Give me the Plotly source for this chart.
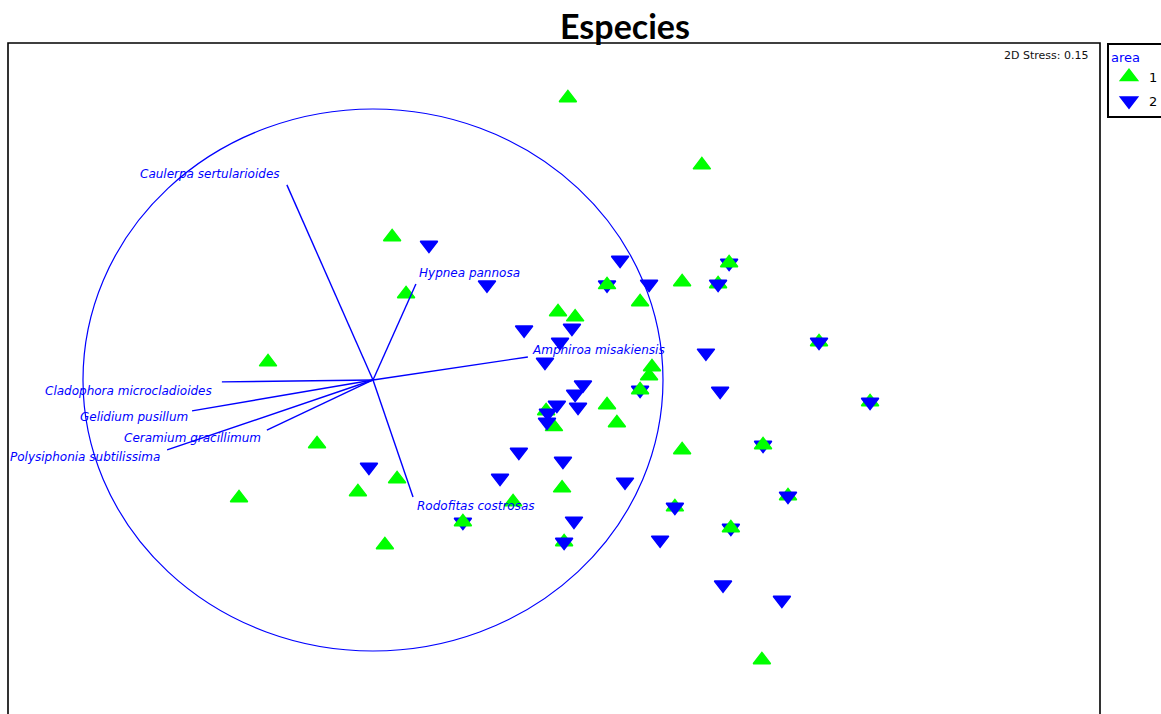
import plotly.graph_objects as go

# nMDS ordination scores (arbitrary units; vector circle has radius 1)
area1_x = [0.672, 1.134, 0.066, 0.114, -0.362, 0.638, 0.697, 0.807, 1.066, 1.228,
           0.921, 1.190, 0.962, 0.952, 0.921, 0.807, 0.841, 0.597, 0.624, 1.538,
           1.714, -0.193, 1.066, 1.345, 1.431, 1.041, 1.234, 1.341, -0.462, -0.052,
           0.083, 0.041, 0.310, 0.483, 0.652, 0.659]
area1_y = [1.041, 0.793, 0.528, 0.317, 0.066, 0.251, 0.232, 0.351, 0.362, 0.432,
           0.288, 0.354, 0.048, 0.015, -0.037, -0.092, -0.159, -0.114, -0.173, 0.140,
           -0.081, -0.236, -0.258, -0.240, -0.428, -0.469, -0.546, -1.033, -0.435, -0.413,
           -0.365, -0.609, -0.524, -0.450, -0.399, -0.598]

area2_x = [0.193, 0.393, 0.852, 0.952, 0.807, 1.228, 1.190, 0.521, 0.686, 0.645,
           0.593, 1.148, 1.538, 1.197, 0.724, 0.697, 0.707, 0.634, 0.603, 0.600,
           0.921, 1.714, -0.014, 0.503, 0.438, 0.655, 0.869, 0.693, 0.659, 0.310,
           0.990, 1.041, 1.431, 1.345, 1.234, 1.207, 1.410]
area2_y = [0.498, 0.351, 0.443, 0.354, 0.351, 0.432, 0.354, 0.185, 0.192, 0.140,
           0.066, 0.100, 0.140, -0.041, -0.018, -0.052, -0.100, -0.092, -0.122, -0.155,
           -0.037, -0.081, -0.321, -0.266, -0.362, -0.299, -0.376, -0.520, -0.598, -0.524,
           -0.590, -0.469, -0.428, -0.240, -0.546, -0.756, -0.812]
# samples of area 2 plotted over the area 1 symbols
area2_on_top = [False, False, False, False, False, False, True, False, True, False,
                False, False, True, False, False, False, False, False, True, True,
                False, True, False, False, False, False, False, False, True, False,
                False, True, True, False, False, False, False]

# species correlation vectors
species = ["Caulerpa sertularioides", "Hypnea pannosa", "Amphiroa misakiensis",
           "Rodofitas costrosas", "Cladophora microcladioides", "Gelidium pusillum",
           "Ceramium gracillimum", "Polysiphonia subtilissima"]
vec_x = [-0.297, 0.148, 0.534, 0.138, -0.521, -0.624, -0.366, -0.710]
vec_y = [0.720, 0.354, 0.085, -0.432, -0.007, -0.114, -0.185, -0.258]

stress = 0.15

# label placement relative to each vector tip: (xanchor, xshift, yshift)
label_place = [("right", -5, 11), ("left", 1, 11), ("left", 2, 7), ("left", 2, -9),
               ("right", -8, -9), ("right", -2, -6), ("right", -4, -8), ("right", -5, -7)]

GREEN = "#00FF00"
BLUE = "#0000FF"
LABEL_FONT = "DejaVu Sans, Verdana, sans-serif"

fig = go.Figure()

under_x = [x for x, t in zip(area2_x, area2_on_top) if not t]
under_y = [y for y, t in zip(area2_y, area2_on_top) if not t]
over_x = [x for x, t in zip(area2_x, area2_on_top) if t]
over_y = [y for y, t in zip(area2_y, area2_on_top) if t]

marker2 = dict(symbol="triangle-down", size=15, color=BLUE, line=dict(color=BLUE, width=1.5))
marker1 = dict(symbol="triangle-up", size=15, color=GREEN, line=dict(color=GREEN, width=1.5))

fig.add_trace(go.Scatter(x=under_x, y=under_y, mode="markers", marker=marker2,
                         name="2", legendgroup="2", legendrank=2, showlegend=True,
                         hoverinfo="skip"))
fig.add_trace(go.Scatter(x=area1_x, y=area1_y, mode="markers", marker=marker1,
                         name="1", legendgroup="1", legendrank=1, hoverinfo="skip"))
fig.add_trace(go.Scatter(x=over_x, y=over_y, mode="markers", marker=marker2,
                         name="2", legendgroup="2", showlegend=False, hoverinfo="skip"))

# vectors from the origin
lx, ly = [], []
for vx, vy in zip(vec_x, vec_y):
    lx += [0, vx, None]
    ly += [0, vy, None]
fig.add_trace(go.Scatter(x=lx, y=ly, mode="lines", line=dict(color=BLUE, width=1.4),
                         showlegend=False, hoverinfo="skip"))

# unit correlation circle
fig.add_shape(type="circle", xref="x", yref="y", x0=-1, x1=1, y0=-1, y1=1,
              line=dict(color=BLUE, width=1.2))

for name, vx, vy, (xa, xs, ys) in zip(species, vec_x, vec_y, label_place):
    fig.add_annotation(x=vx, y=vy, text=name, showarrow=False, xanchor=xa, yanchor="middle",
                       xshift=xs, yshift=ys,
                       font=dict(family=LABEL_FONT, size=12, color=BLUE, style="italic"))

fig.add_annotation(xref="paper", yref="paper", x=0.991, y=0.982, text=f"2D Stress: {stress:.2f}",
                   showarrow=False, xanchor="right", yanchor="middle",
                   font=dict(family=LABEL_FONT, size=11, color="#111111"))

# plot frame (bottom edge lies below the visible page)
fig.add_shape(type="path", xref="paper", yref="paper", path="M 0,-0.01 L 0,1 L 1,1 L 1,-0.01",
              line=dict(color="black", width=1.6))

fig.update_xaxes(visible=False, range=[-1.2586, 2.5069])
fig.update_yaxes(visible=False, range=[-1.2325, 1.2435])

fig.update_layout(
    width=1161, height=714,
    margin=dict(l=8, r=61, t=43, b=0, autoexpand=False),
    paper_bgcolor="white", plot_bgcolor="white",
    title=dict(text="<b>Especies</b>", x=625 / 1161, xref="container", xanchor="center",
               y=1 - 27 / 714, yref="container", yanchor="middle",
               font=dict(family="Lato, Open Sans", size=34, color="black")),
    legend=dict(xref="container", yref="container", x=1107 / 1161, y=1 - 43 / 714,
                xanchor="left", yanchor="top", bordercolor="black", borderwidth=2,
                bgcolor="white", itemwidth=30, tracegroupgap=4,
                title=dict(text="area", font=dict(family=LABEL_FONT, size=13, color=BLUE)),
                font=dict(family=LABEL_FONT, size=13, color="black")),
    showlegend=True,
)

fig.write_html("out.html")
